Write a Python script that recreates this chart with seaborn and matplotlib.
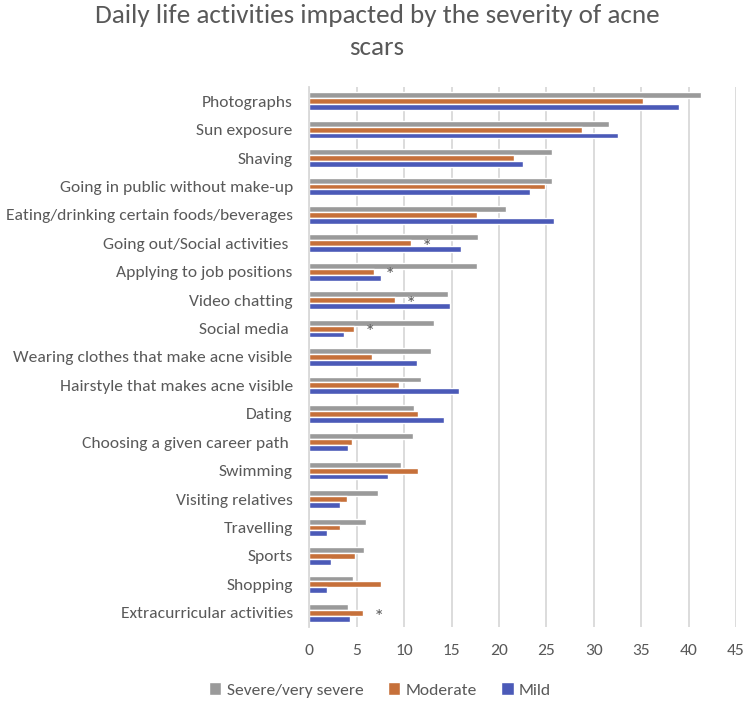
import matplotlib
matplotlib.use("Agg")
import matplotlib.pyplot as plt
import numpy as np
import pandas as pd
import seaborn as sns

activites = [
    "Photographs",
    "Sun exposure",
    "Shaving",
    "Going in public without make-up",
    "Eating/drinking certain foods/beverages",
    "Going out/Social activities ",
    "Applying to job positions",
    "Video chatting",
    "Social media ",
    "Wearing clothes that make acne visible",
    "Hairstyle that makes acne visible",
    "Dating",
    "Choosing a given career path ",
    "Swimming",
    "Visiting relatives",
    "Travelling",
    "Sports",
    "Shopping",
    "Extracurricular activities",
]
severe = [41.3, 31.6, 25.6, 25.6, 20.7, 17.8, 17.7, 14.6, 13.1, 12.8,
          11.8, 11.0, 10.9, 9.7, 7.2, 6.0, 5.8, 4.6, 4.1]
moderate = [35.2, 28.8, 21.6, 24.9, 17.7, 10.7, 6.8, 9.0, 4.7, 6.6,
            9.4, 11.4, 4.5, 11.4, 4.0, 3.2, 4.8, 7.5, 5.6]
mild = [39.0, 32.6, 22.5, 23.3, 25.8, 16.0, 7.5, 14.8, 3.6, 11.3,
        15.8, 14.2, 4.1, 8.3, 3.2, 1.8, 2.3, 1.8, 4.3]
significatif = ["Going out/Social activities ", "Applying to job positions",
                "Video chatting", "Social media ", "Extracurricular activities"]

groupes = ["Severe/very severe", "Moderate", "Mild"]
couleurs = ["#9a9a9a", "#c6703a", "#4b5ab8"]

data = pd.DataFrame({
    "activite": activites * 3,
    "groupe": np.repeat(groupes, len(activites)),
    "valeur": severe + moderate + mild,
})

sns.set_style("white")
plt.rcParams["font.family"] = ["Carlito", "Lato", "DejaVu Sans"]
texte = "#595959"

fig = plt.figure(figsize=(7.47, 7.01), dpi=100)
ax = fig.add_axes([0.4143, 0.1056, 0.5710, 0.7703])

sns.barplot(
    data=data, y="activite", x="valeur", hue="groupe",
    order=activites, hue_order=groupes, palette=couleurs,
    width=0.62, orient="h", saturation=1, ax=ax, legend=True,
)

# astérisques pour les différences significatives
for i, act in enumerate(activites):
    if act in significatif:
        ax.text(moderate[i] + 1.7, i + 0.15, "*", ha="center", va="center",
                fontsize=15, color=texte)

ax.set_xlim(0, 45)
ax.set_xticks(np.arange(0, 46, 5))
ax.xaxis.grid(True, color="#d9d9d9", linewidth=1.3)
ax.set_axisbelow(True)
for s in ["top", "right", "bottom"]:
    ax.spines[s].set_visible(False)
ax.spines["left"].set_color("#d9d9d9")
ax.spines["left"].set_linewidth(1.3)
ax.tick_params(axis="y", length=0, colors=texte, labelsize=12.6, pad=12)
ax.tick_params(axis="x", length=0, colors=texte, labelsize=12.6, pad=12.5)
ax.set_xlabel("")
ax.set_ylabel("")

ax.legend(loc="center", bbox_to_anchor=(380 / 747, 1 - 690 / 701),
          bbox_transform=fig.transFigure, ncol=3,
          frameon=False, fontsize=12.6, handlelength=0.7, handleheight=0.7,
          columnspacing=1.4, handletextpad=0.3, labelcolor=texte,
          borderpad=0)

titre = dict(ha="center", va="baseline", fontsize=19.5, color=texte)
fig.text(377 / 747, 1 - 23 / 701,
         "Daily life activities impacted by the severity of acne", **titre)
fig.text(377 / 747, 1 - 55 / 701, "scars", **titre)

fig.savefig("out.png", dpi=100)
